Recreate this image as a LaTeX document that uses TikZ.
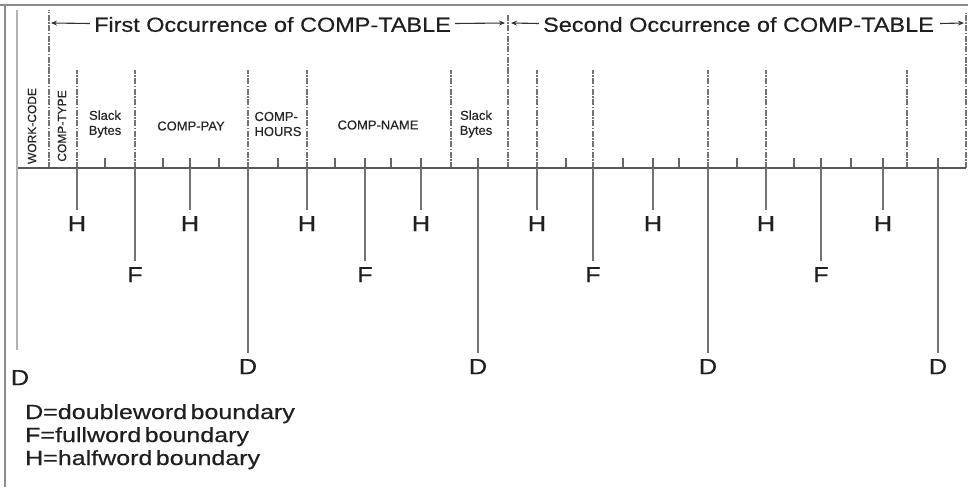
\documentclass[tikz,border=0pt]{standalone}
\usepackage{fontspec}
\setmainfont{Liberation Sans}
\newfontfamily\hdrfont[FakeStretch=1.15,WordSpace=0.5,FakeBold=0.4]{Liberation Sans}
\newfontfamily\labfont[FakeStretch=1.15,FakeBold=0.4]{Liberation Sans}
\newfontfamily\legfont[FakeStretch=1.22,WordSpace=0.5,FakeBold=0.4]{Liberation Sans}
\newfontfamily\fldfont[FakeBold=0.3]{Liberation Sans}
\usetikzlibrary{arrows.meta,calc}
\begin{document}
\begin{tikzpicture}[x=1pt,y=-1pt,
  frame/.style={draw=black!45,line width=1.6pt},
  baseln/.style={draw=black!65,line width=1.8pt},
  vline/.style={draw=black!55,line width=1.4pt},
  dline/.style={draw=black!30,line width=2.2pt},
  sep/.style={draw=black!55,line width=1.1pt,dash pattern=on 6pt off 1.5pt on 1.5pt off 1.5pt},
  tick/.style={draw=black!60,line width=1.1pt},
  harrow/.style={draw=black!80,line width=1.1pt,-{Stealth[length=6pt,width=5pt]}},
  hdr/.style={font=\hdrfont\fontsize{20.4}{23}\selectfont,inner sep=0pt,text=black!88},
  blab/.style={font=\labfont\fontsize{22}{24}\selectfont,inner sep=0pt,text=black!88,anchor=north,text height=16pt,text depth=0pt},
  fld/.style={font=\fldfont\fontsize{13}{15}\selectfont,inner sep=0pt,text=black!85,align=center},
  rfld/.style={font=\fldfont\fontsize{12}{14}\selectfont,inner sep=0pt,text=black!85,rotate=90},
  leg/.style={font=\legfont\fontsize{20.5}{22}\selectfont,inner sep=0pt,text=black!88,anchor=base west}
]
\useasboundingbox (0,0) rectangle (968,487);
\fill[white] (0,0) rectangle (968,487);

% byte positions on the base line
\foreach \k/\x in {0/17,1/49,2/77,3/105,4/135,5/163,6/190,7/219,8/248,9/278,10/307,11/335,12/365,13/391,14/421,15/451,16/478,17/508,18/537,19/566,20/593,21/623,22/653,23/679,24/708,25/737,26/766,27/794,28/821,29/851,30/883,31/907,32/938,33/966}
  {\coordinate (b\k) at (\x,168);}

% frame
\draw[frame] (0,5) -- (968,5);
\draw[frame] (5,5) -- (5,487);

% field separators
\draw[sep] (b1) -- ++(0,-158);
\draw[sep] (b17) -- ++(0,-153);
\draw[sep] (b33) -- ++(0,-155);
\foreach \k in {2,4,8,10,15,18,20,24,26,31} \draw[sep] (b\k) -- ++(0,-98);

% byte ticks
\foreach \k in {3,5,6,7,9,11,12,13,14,16,19,21,22,23,25,27,28,29,30,32} \draw[tick] (b\k) -- ++(0,-10);

% base line
\draw[baseln] (b0) -- (b33);

% boundary markers
\coordinate (top0) at (17,10);
\node[blab] (d0) at (20,369) {D};
\draw[dline,shorten >=19pt] (top0) -- (d0.north -| b0);
\foreach \k in {2,6,10,14,18,22,26,30} {
  \node[blab] (h\k) at ($(b\k)+(0,47)$) {H};
  \draw[vline,shorten >=5pt] (b\k) -- (h\k.north);
}
\foreach \k in {4,12,20,28} {
  \node[blab] (f\k) at ($(b\k)+(0,98)$) {F};
  \draw[vline,shorten >=5pt] (b\k) -- (f\k.north);
}
\foreach \k in {8,16,24,32} {
  \node[blab] (d\k) at ($(b\k)+(0,190)$) {D};
  \draw[vline,shorten >=5pt] (b\k) -- (d\k.north);
}

% header
\node[hdr] (t1) at (272.5,24.5) {First Occurrence of COMP-TABLE};
\node[hdr] (t2) at (738.5,24.5) {Second Occurrence of COMP-TABLE};
\coordinate (a1) at (51,23);
\coordinate (a2) at (505,23);
\coordinate (a3) at (511,23);
\coordinate (a4) at (964,23);
\draw[harrow] ($(t1.west)+(-4,-1)$) -- (a1);
\draw[harrow] ($(t1.east)+(4,-1)$) -- (a2);
\draw[harrow] ($(t2.west)+(-4,-1)$) -- (a3);
\draw[harrow] ($(t2.east)+(6,-1)$) -- (a4);

% field names
\node[rfld] (wc) at (32,126) {WORK-CODE};
\node[rfld] (ct) at (62,126) {COMP-TYPE};
\node[fld] (sb1) at (105,124) {Slack\\Bytes};
\node[fld] (cp) at (191,126) {COMP-PAY};
\node[fld,align=left] (ch) at (278,124) {COMP-\\HOURS};
\node[fld] (cn) at (378,125) {COMP-NAME};
\node[fld] (sb2) at (476,124) {Slack\\Bytes};

% legend
\node[leg] (l1) at (25,419) {D=doubleword boundary};
\node[leg] (l2) at (25,442) {F=fullword boundary};
\node[leg] (l3) at (25,465) {H=halfword boundary};
\end{tikzpicture}
\end{document}
